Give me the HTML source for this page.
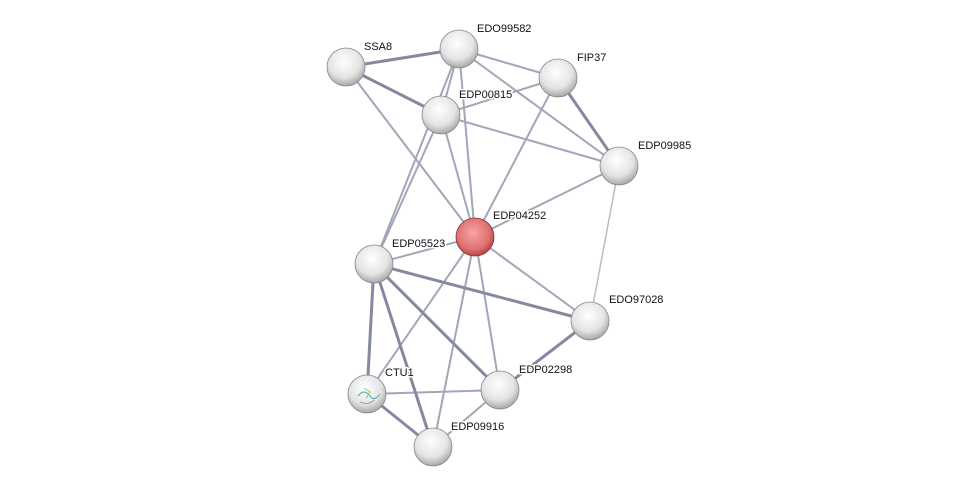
<!DOCTYPE html>
<html><head><style>
body{margin:0;background:#fff;width:975px;height:493px;overflow:hidden}
text{font-family:"Liberation Sans",sans-serif;font-size:11px;fill:#111;paint-order:stroke;stroke:#fff;stroke-width:3px;stroke-linejoin:round}
</style></head><body>
<svg width="975" height="493" viewBox="0 0 975 493">
<defs>
<radialGradient id="g" cx="0.45" cy="0.35" r="0.7">
<stop offset="0" stop-color="#ffffff"/><stop offset="0.6" stop-color="#e4e4e4"/><stop offset="1" stop-color="#9a9a9a"/></radialGradient>
<radialGradient id="r" cx="0.45" cy="0.4" r="0.7">
<stop offset="0" stop-color="#f7a5a5"/><stop offset="0.6" stop-color="#e07272"/><stop offset="1" stop-color="#9a3030"/></radialGradient>
</defs>
<g stroke-linecap="round">
<g stroke="#6f7590" stroke-width="3" opacity="0.85">
<line x1="346" y1="67" x2="459" y2="49"/>
<line x1="346" y1="67" x2="441" y2="115"/>
<line x1="558" y1="78" x2="619" y2="166"/>
<line x1="374" y1="264" x2="590" y2="321"/>
<line x1="374" y1="264" x2="500" y2="390"/>
<line x1="374" y1="264" x2="367" y2="394"/>
<line x1="374" y1="264" x2="433" y2="447"/>
<line x1="590" y1="321" x2="500" y2="390"/>
<line x1="367" y1="394" x2="433" y2="447"/>
</g>
<g stroke="#8a90a8" stroke-width="2" opacity="0.8">
<line x1="346" y1="67" x2="475" y2="237"/>
<line x1="459" y1="49" x2="558" y2="78"/>
<line x1="459" y1="49" x2="441" y2="115"/>
<line x1="459" y1="49" x2="619" y2="166"/>
<line x1="459" y1="49" x2="475" y2="237"/>
<line x1="459" y1="49" x2="374" y2="264"/>
<line x1="558" y1="78" x2="441" y2="115"/>
<line x1="558" y1="78" x2="475" y2="237"/>
<line x1="441" y1="115" x2="619" y2="166"/>
<line x1="441" y1="115" x2="475" y2="237"/>
<line x1="441" y1="115" x2="374" y2="264"/>
<line x1="619" y1="166" x2="475" y2="237"/>
<line x1="475" y1="237" x2="374" y2="264"/>
<line x1="475" y1="237" x2="590" y2="321"/>
<line x1="475" y1="237" x2="500" y2="390"/>
<line x1="475" y1="237" x2="367" y2="394"/>
<line x1="475" y1="237" x2="433" y2="447"/>
<line x1="367" y1="394" x2="500" y2="390"/>
<line x1="500" y1="390" x2="433" y2="447"/>
</g>
<line x1="619" y1="166" x2="590" y2="321" stroke="#b8bccb" stroke-width="1.5"/>
</g>
<g stroke="#888" stroke-width="0.8">
<circle cx="346" cy="67" r="19" fill="url(#g)"/>
<circle cx="459" cy="49" r="19" fill="url(#g)"/>
<circle cx="558" cy="78" r="19" fill="url(#g)"/>
<circle cx="441" cy="115" r="19" fill="url(#g)"/>
<circle cx="619" cy="166" r="19" fill="url(#g)"/>
<circle cx="475" cy="237" r="19" fill="url(#r)" stroke="#8a3030"/>
<circle cx="374" cy="264" r="19" fill="url(#g)"/>
<circle cx="590" cy="321" r="19" fill="url(#g)"/>
<circle cx="500" cy="390" r="19" fill="url(#g)"/>
<circle cx="367" cy="394" r="19" fill="url(#g)"/>
<circle cx="433" cy="447" r="19" fill="url(#g)"/>
</g>
<g stroke-width="1" fill="none">
<path d="M358 396 q6 -8 12 0 q4 6 10 -2" stroke="#4aa"/>
<path d="M360 402 q8 4 14 -2" stroke="#c8a"/>
<path d="M364 388 l6 4 l-4 6" stroke="#8c6"/>
</g>
<text x="364" y="50">SSA8</text>
<text x="477" y="32">EDO99582</text>
<text x="577" y="61">FIP37</text>
<text x="459" y="98">EDP00815</text>
<text x="638" y="149">EDP09985</text>
<text x="493" y="219">EDP04252</text>
<text x="392" y="247">EDP05523</text>
<text x="609" y="303">EDO97028</text>
<text x="519" y="373">EDP02298</text>
<text x="385" y="376">CTU1</text>
<text x="451" y="430">EDP09916</text>
</svg>
</body></html>
